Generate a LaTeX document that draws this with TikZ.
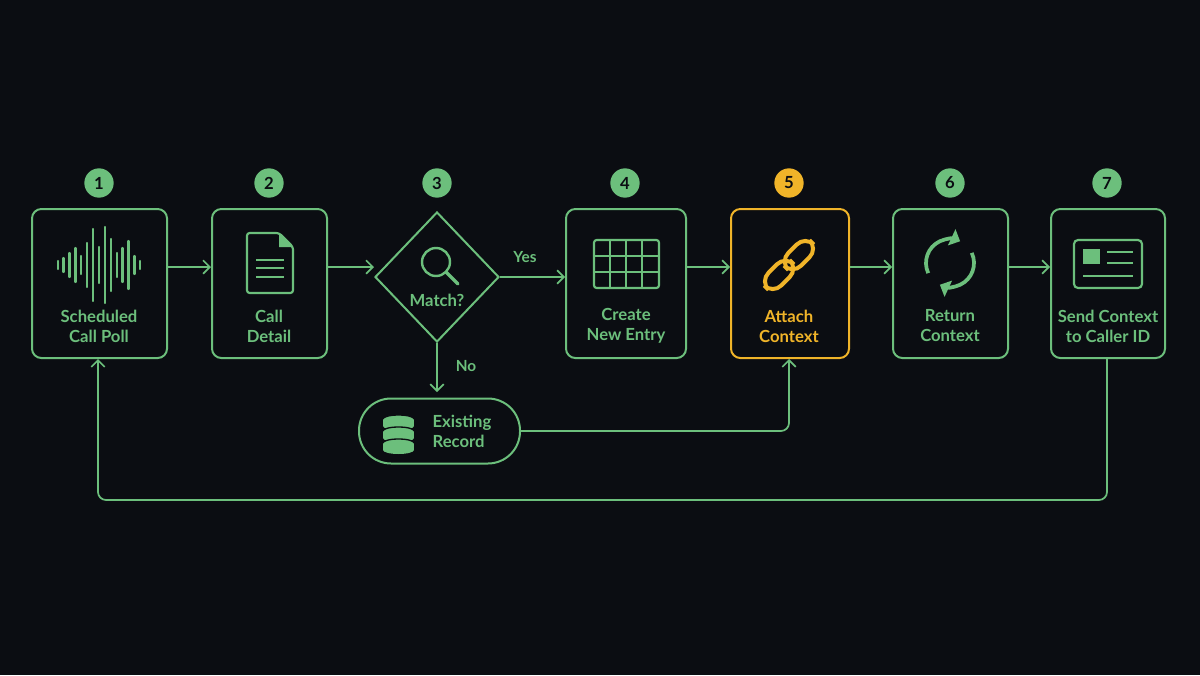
\documentclass[tikz,border=0pt]{standalone}
\usepackage{fontspec}
\setmainfont{Lato}
\usetikzlibrary{arrows.meta,shapes.geometric}
\definecolor{bg}{HTML}{0B0D12}
\definecolor{gr}{HTML}{6CBF7C}
\definecolor{yl}{HTML}{F0B429}
\begin{document}
\begin{tikzpicture}[x=0.75pt,y=-0.75pt,
  box/.style={draw=gr,line width=1.5pt,rounded corners=7pt,inner sep=0},
  lbl/.style={font=\fontsize{12.5}{15}\selectfont\bfseries,text=gr,align=center},
  num/.style={circle,fill=gr,minimum size=22pt,inner sep=0,font=\fontsize{12.5}{12}\selectfont\bfseries,text=bg},
  arr/.style={draw=gr,line width=1.3pt,-{Straight Barb[length=5pt,width=10pt]}},
  ic/.style={draw=gr,line width=1.6pt}]
\fill[bg] (0,0) rectangle (1200,675);
\useasboundingbox (0,0) rectangle (1200,675);
% boxes
\node[box,minimum width=101.25pt,minimum height=111.75pt] (b1) at (99.5,283.5) {};
\node[box,minimum width=86.25pt,minimum height=111.75pt] (b2) at (269.5,283.5) {};
\node[diamond,draw=gr,line width=1.5pt,minimum width=93pt,minimum height=97.5pt,inner sep=0] (b3) at (437,277) {};
\node[box,minimum width=90pt,minimum height=111.75pt] (b4) at (626,283.5) {};
\node[box,draw=yl,minimum width=88.5pt,minimum height=111.75pt] (b5) at (790,283.5) {};
\node[box,minimum width=86.25pt,minimum height=111.75pt] (b6) at (950.5,283.5) {};
\node[box,minimum width=85.5pt,minimum height=111.75pt] (b7) at (1108,283.5) {};
\node[draw=gr,line width=1.5pt,rounded corners=24pt,minimum width=120.75pt,minimum height=48.75pt] (b8) at (439.5,431) {};
% numbers
\foreach \x/\n in {99/1,269/2,437/3,625/4,950/6,1107/7} \node[num] (n\n) at (\x,183) {\n};
\node[num,fill=yl] (n5) at (789,183) {5};
% labels
\node[lbl] (t1) at (99,326) {Scheduled\\Call Poll};
\node[lbl] (t2) at (269,326) {Call\\Detail};
\node[lbl] (t3) at (437,300) {Match?};
\node[lbl] (t4) at (626,326) {Create\\New Entry};
\node[lbl,text=yl] (t5) at (789,326) {Attach\\Context};
\node[lbl] (t6) at (950,326) {Return\\Context};
\node[lbl] (t7) at (1108,326) {Send Context\\to Caller ID};
\node[lbl,align=left] (t8) at (462,431) {Existing\\Record};
\node[lbl,font=\fontsize{11.5}{12}\selectfont\bfseries] (ty) at (525,257) {Yes};
\node[lbl,font=\fontsize{11.5}{12}\selectfont\bfseries] (tn) at (466,366) {No};
% connectors
\draw[arr] (b1.east |- 0,267) -- (b2.west |- 0,267);
\draw[arr] (b2.east |- 0,267) -- (374,267);
\draw[arr] (b3.east) -- (b4.west |- b3.east);
\draw[arr] (b4.east |- 0,267) -- (b5.west |- 0,267);
\draw[arr] (b5.east |- 0,267) -- (b6.west |- 0,267);
\draw[arr] (b6.east |- 0,267) -- (b7.west |- 0,267);
\draw[arr] (b3.south) -- (437,392);
\draw[arr,rounded corners=6pt] (b8.east) -- (789,431) -- (b5.south -| 789,0);
\draw[arr,rounded corners=6pt] (b7.south -| 1107,0) -- (1107,500) -- (98,500) -- (b1.south -| 98,0);
% icon 1 waveform
\foreach \i/\h in {-7/4,-6/7,-5/12,-4/17,-3/9,-2/22,-1/36,0/18,1/38,2/26,3/12,4/17,5/24,6/9,7/4}
  \draw[gr,line width=1.7pt,line cap=round] (99+\i*5.9,265-\h) -- (99+\i*5.9,265+\h);
% icon 2 document
\draw[ic,rounded corners=2pt,line join=round] (247,233) -- (279,233) -- (293,247) -- (293,293) -- (247,293) -- cycle;
\fill[gr] (279,233) -- (293,247) -- (279,247) -- cycle;
\foreach \y in {260,268,277} \draw[ic] (256,\y) -- (284,\y);
% icon 3 magnifier
\draw[gr,line width=1.8pt] (436,262) circle (14);
\draw[gr,line width=2.6pt,line cap=round] (446,272) -- (458,284);
% icon 4 table
\draw[ic,rounded corners=2pt] (594,240) rectangle (659,288);
\foreach \x in {610,626,642} \draw[ic] (\x,240) -- (\x,288);
\foreach \y in {256,272} \draw[ic] (594,\y) -- (659,\y);
% icon 5 chain
\begin{scope}[shift={(789,265)},rotate=45]
\draw[yl,line width=3pt,rounded corners=9pt] (-32,-9) rectangle (4,9);
\draw[yl,line width=3pt,rounded corners=9pt] (-4,-9) rectangle (32,9);
\end{scope}
% icon 6 refresh
\draw[gr,line width=2.8pt,-{Triangle[length=7pt,width=13pt]}] (950,263) ++(-205:24) arc (-205:-65:24);
\draw[gr,line width=2.8pt,-{Triangle[length=7pt,width=13pt]}] (950,263) ++(-25:24) arc (-25:115:24);
% icon 7 card
\draw[ic,rounded corners=3pt] (1074,240) rectangle (1142,288);
\fill[gr] (1083,249) rectangle (1100,264);
\foreach \y in {252,263} \draw[ic] (1107,\y) -- (1133,\y);
\draw[ic] (1083,276) -- (1133,276);
% icon 8 database
\foreach \y in {419,431,443} {
  \fill[gr] (383,\y) rectangle (414,\y+7);
  \fill[gr] (398.5,\y+7) ellipse (15.5 and 4);
  \fill[gr] (398.5,\y) ellipse (15.5 and 4);
  \draw[bg,line width=1pt] (383,\y) arc (180:360:15.5 and 4);
}
\end{tikzpicture}
\end{document}
